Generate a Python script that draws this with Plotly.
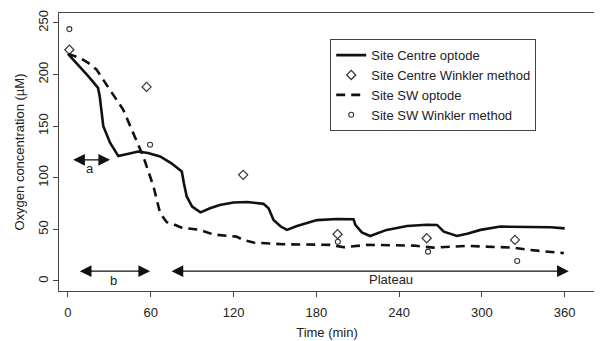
import plotly.graph_objects as go

# Site Centre optode
centre_t = [0, 5, 10, 15, 21.8, 23, 25.6, 30.5, 36.5, 44, 51, 58, 66.8, 75, 82.5, 84, 86, 90, 96, 103, 110, 120, 130, 141.7, 145.4, 149, 154, 158.7, 166, 180.5, 195, 207, 208.3, 213, 219, 231, 245.8, 260, 267.5, 272.4, 282, 290, 299, 313.5, 337.5, 350, 360]
centre_y = [220, 213, 205, 198, 187, 179, 150, 134, 121, 123, 125.4, 124, 120.6, 114, 106, 95, 82, 72, 66.5, 70.5, 73.7, 76, 76.5, 74.7, 70.5, 59, 53, 49.5, 53.3, 59, 60, 59.8, 54.3, 47, 43.6, 49.5, 53.3, 54.5, 54.3, 47.8, 43.6, 46, 49.5, 52.7, 52.7, 52, 51]

# Site SW optode
sw_t = [0, 8.7, 15, 20.8, 25, 30.5, 40, 47.4, 54.6, 62, 66.8, 71.6, 76.4, 82.5, 88.5, 95.8, 105.4, 115, 122, 127, 134.5, 156, 190, 200, 216.8, 250.6, 265, 289, 323, 335, 359.4]
sw_y = [220, 216, 211, 204.7, 196, 185, 166, 143, 120.6, 91.5, 65.7, 57, 55, 51.7, 50.5, 49.5, 45, 43.5, 43, 39.8, 37.2, 35.6, 35, 32.7, 35, 34.3, 32.3, 34, 32.3, 30, 27]

# Winkler measurements
centre_w_t = [1, 57, 127, 195.4, 260, 324]
centre_w_y = [224, 188, 102.8, 45.3, 41.4, 39.8]
sw_w_t = [1, 59.5, 195.6, 261, 325.6]
sw_w_y = [244, 132, 38, 28.4, 19.4]

x_ticks = [0, 60, 120, 180, 240, 300, 360]
y_ticks = [0, 50, 100, 150, 200, 250]

# Arrow annotations: (start, end, y)
arrow_a = (2.7, 30.5, 117.4)
arrow_b = (7.5, 59.5, 9.5)
arrow_plateau = (74, 363, 9.5)
labels = [("a", 16, 109), ("b", 33, 0.5), ("Plateau", 234, 1.0)]

FONT = "Liberation Sans, Arial, sans-serif"

fig = go.Figure()
fig.add_trace(go.Scatter(x=centre_t, y=centre_y, mode="lines", name="Site Centre optode",
                         line=dict(color="#111111", width=2.6)))
fig.add_trace(go.Scatter(x=centre_w_t, y=centre_w_y, mode="markers", name="Site Centre Winkler method",
                         marker=dict(symbol="diamond-open", size=7, color="#333333", line=dict(width=1.2))))
fig.add_trace(go.Scatter(x=sw_t, y=sw_y, mode="lines", name="Site SW optode",
                         line=dict(color="#111111", width=2.6, dash="9px,6px")))
fig.add_trace(go.Scatter(x=sw_w_t, y=sw_w_y, mode="markers", name="Site SW Winkler method",
                         marker=dict(symbol="circle-open", size=5, color="#333333", line=dict(width=1.1))))

for (x0, x1, yy) in [arrow_a, arrow_b, arrow_plateau]:
    fig.add_annotation(x=x1, y=yy, ax=x0, ay=yy, xref="x", yref="y", axref="x", ayref="y",
                       text="", showarrow=True, arrowhead=2, arrowside="end+start",
                       arrowsize=1.8, arrowwidth=1.3, arrowcolor="#111111")
for (t, xx, yy) in labels:
    fig.add_annotation(x=xx, y=yy, xref="x", yref="y", text=t, showarrow=False,
                       font=dict(size=13, color="#222222"), yanchor="middle")

# page body has an 8px default margin, so the figure is offset by 8px; compensate in margins
fig.update_layout(
    width=602, height=341,
    margin=dict(l=51, r=15, t=5, b=58),
    paper_bgcolor="white", plot_bgcolor="white",
    font=dict(family=FONT, size=13, color="#222222"),
    showlegend=True,
    legend=dict(x=0.506, y=0.906, xanchor="left", yanchor="top",
                bordercolor="#444444", borderwidth=1, bgcolor="white",
                font=dict(size=13), tracegroupgap=0, itemwidth=30),
)
fig.update_xaxes(range=[-6.5, 382], tickvals=x_ticks, ticks="outside", ticklen=5,
                 tickcolor="#444444", showline=True, linecolor="#444444", linewidth=1, mirror=True,
                 showgrid=False, zeroline=False, automargin=False, ticklabelstandoff=4,
                 title=dict(text="Time (min)", standoff=9, font=dict(size=13)))
fig.update_yaxes(range=[-9.7, 259.6], tickvals=y_ticks, ticks="outside", ticklen=5, tickangle=-90,
                 tickcolor="#444444", showline=True, linecolor="#444444", linewidth=1, mirror=True,
                 showgrid=False, zeroline=False, automargin=False,
                 title=dict(text="Oxygen concentration (µM)", standoff=8, font=dict(size=13)))

fig.write_html("out.html")
